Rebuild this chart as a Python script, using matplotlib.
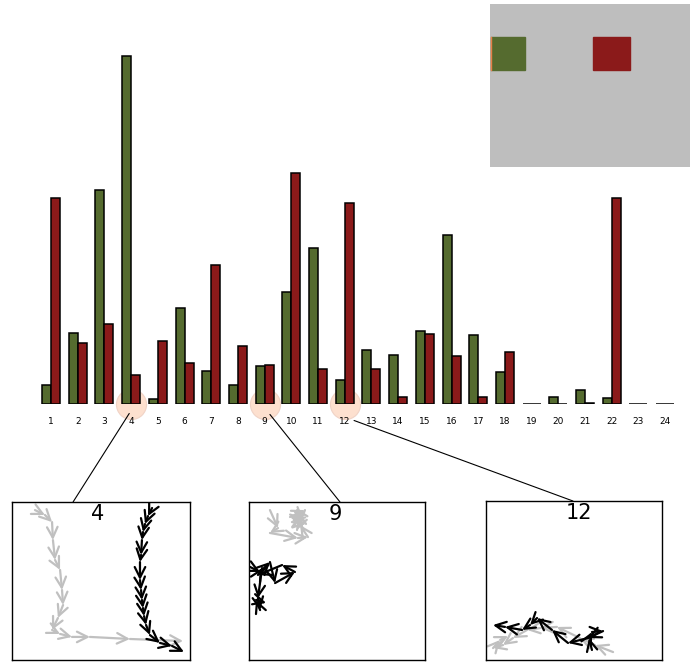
import numpy as np
import matplotlib.pyplot as plt
from matplotlib.patches import FancyArrowPatch, Rectangle, ConnectionPatch

# bar data
groups = np.arange(1, 25)
green_vals = [19, 71, 214, 348, 5, 96, 33, 19, 38, 112, 156, 24,
              54, 49, 73, 169, 69, 32, 0, 7, 14, 6, 0, 0]
red_vals = [206, 61, 80, 29, 63, 41, 139, 58, 39, 231, 35, 201,
            35, 7, 70, 48, 7, 52, 0, 0, 1, 206, 0, 0]

highlight = [4, 9, 12]

# trajectories shown in the three zoom panels (panel coords 0..100)
traj4_gray_x = [12.9, 18.5, 22.5, 23.0, 24.2, 27.0, 28.1, 28.7, 25.8, 22.5, 27.0, 33.7, 43.8, 66.3, 96.1]
traj4_gray_y = [94.9, 91.8, 87.3, 75.9, 63.3, 57.0, 44.3, 34.8, 26.6, 19.0, 16.5, 14.6, 14.6, 13.3, 12.0]
traj4_black_x = [78.7, 76.4, 74.7, 73.6, 73.0, 72.5, 71.9, 71.9, 72.5, 73.0, 73.6, 74.2, 75.3, 77.5, 83.1, 89.9, 96.6]
traj4_black_y = [96.2, 91.1, 86.1, 81.0, 75.9, 66.5, 62.0, 50.6, 44.3, 38.0, 32.9, 27.8, 22.2, 15.8, 10.8, 8.9, 5.1]

traj9_gray_x = [11.9, 16.5, 11.9, 27.8, 33.5, 29.0, 26.1, 30.7, 23.3, 31.8, 27.3, 29.0, 24.4, 32.4, 26.7]
traj9_gray_y = [94.9, 83.5, 80.4, 77.2, 77.8, 85.4, 93.7, 88.6, 90.5, 94.9, 82.3, 91.8, 87.3, 86.1, 96.2]
traj9_black_x = [0.6, 6.3, 11.9, 14.8, 26.1, 18.8, 5.1, 7.4, 5.1, 6.3, 4.0, 9.7]
traj9_black_y = [58.9, 55.7, 62.0, 48.7, 55.7, 60.1, 53.8, 58.2, 39.2, 31.6, 38.0, 36.1]

traj12_gray_x = [72.2, 61.9, 53.4, 40.3, 30.7, 23.3, 15.3, 9.7, 4.0, 8.0, 12.5]
traj12_gray_y = [5.0, 9.4, 13.8, 20.8, 20.1, 18.9, 13.8, 9.4, 7.5, 12.6, 15.1]
traj12_black_x = [60.2, 58.5, 60.2, 66.5, 58.0, 46.6, 37.5, 29.0, 25.0, 20.5, 10.8, 4.0]
traj12_black_y = [6.3, 13.8, 17.6, 18.2, 13.8, 10.7, 18.9, 26.4, 22.0, 18.9, 20.8, 22.0]

panels = [
    (4, traj4_gray_x, traj4_gray_y, traj4_black_x, traj4_black_y),
    (9, traj9_gray_x, traj9_gray_y, traj9_black_x, traj9_black_y),
    (12, traj12_gray_x, traj12_gray_y, traj12_black_x, traj12_black_y),
]

green = '#556b2f'
red = '#8b1a1a'

fig = plt.figure(figsize=(6.9, 6.62), dpi=100)

# main bar chart
ax = fig.add_axes([24.3 / 690, 0.389, 655.5 / 690, 0.5438])
w = 0.337
ax.bar(groups - w / 2, green_vals, width=w, color=green, edgecolor='black', linewidth=1.1, zorder=3)
ax.bar(groups + w / 2, red_vals, width=w, color=red, edgecolor='black', linewidth=1.1, zorder=3)
ax.scatter(highlight, [0] * len(highlight), s=470, color='#fde0cf', edgecolor='#f0d3c6',
           linewidth=0.8, zorder=1, clip_on=False)
ax.set_xlim(0, 24.55)
ax.set_ylim(0, 360)
ax.set_xticks(groups)
ax.set_xticklabels([str(g) for g in groups], fontsize=6.5)
ax.tick_params(axis='x', length=0, pad=9)
ax.set_yticks([])
for s in ax.spines.values():
    s.set_visible(False)

# legend box
lax = fig.add_axes([490 / 690, 1 - 167 / 662, 200 / 690, 163 / 662])
lax.set_facecolor('#bebebe')
lax.set_xlim(0, 200)
lax.set_ylim(0, 163)
lax.add_patch(Rectangle((1, 97), 34, 33, color=green))
lax.add_patch(Rectangle((103, 97), 37, 33, color=red))
lax.plot([0.7, 0.7], [97, 130], color='#e8804a', lw=1)
lax.set_xticks([])
lax.set_yticks([])
for s in lax.spines.values():
    s.set_visible(False)

# zoom panels
panel_pos = [
    [12 / 690, 2 / 662, 178 / 690, 158 / 662],
    [249 / 690, 2 / 662, 176 / 690, 158 / 662],
    [486 / 690, 2 / 662, 176 / 690, 159 / 662],
]
title_x = [0.48, 0.49, 0.53]
link_x = [0.343, 0.517, 0.494]
link_start = [(3.93, -9), (9.2, -10), (12.35, -16)]


def draw_path(a, xs, ys, col):
    for i in range(len(xs) - 1):
        arr = FancyArrowPatch((xs[i], ys[i]), (xs[i + 1], ys[i + 1]),
                              arrowstyle='->', mutation_scale=19, color=col,
                              lw=1.6, shrinkA=0, shrinkB=0)
        a.add_patch(arr)


for (label, gx, gy, bx, by), pos, tx, lx, st in zip(panels, panel_pos, title_x, link_x, link_start):
    pax = fig.add_axes(pos)
    pax.set_xlim(0, 100)
    pax.set_ylim(0, 100)
    draw_path(pax, gx, gy, '#c0c0c0')
    draw_path(pax, bx, by, 'black')
    pax.text(tx, 0.985, str(label), transform=pax.transAxes, ha='center', va='top', fontsize=15)
    pax.set_xticks([])
    pax.set_yticks([])
    for s in pax.spines.values():
        s.set_linewidth(1)
    con = ConnectionPatch(xyA=st, coordsA=ax.transData, xyB=(lx, 1), coordsB=pax.transAxes,
                          color='black', lw=0.8)
    fig.add_artist(con)

plt.savefig('out.png', dpi=100)
